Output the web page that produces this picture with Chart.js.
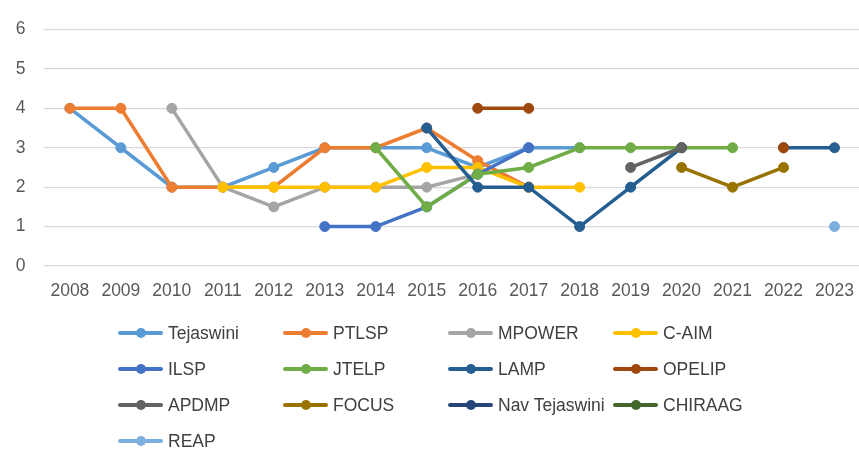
<!DOCTYPE html>
<html>
<head>
<meta charset="utf-8">
<script src="https://cdn.jsdelivr.net/npm/chart.js@4.4.1/dist/chart.umd.min.js"></script>
<style>
  html, body { margin:0; padding:0; background:#fff; overflow:hidden; width:859px; height:449px; }
  #wrap { position:relative; width:859px; height:449px; overflow:hidden; }
  #c { position:absolute; left:0; top:0; }
  .item { position:absolute; height:20px; }
  .mk { position:absolute; left:0; top:8px; width:45px; height:4px; border-radius:2px; }
  .dot { position:absolute; left:18px; top:5px; width:10px; height:10px; border-radius:50%; }
  .lbl { position:absolute; left:50px; top:0; font-family:"Liberation Sans", Arial, sans-serif; font-size:17.5px; line-height:20px; color:#404040; white-space:nowrap; }
</style>
</head>
<body>
<div id="wrap">
<canvas id="c" width="866" height="449"></canvas>
<div id="legend"></div>
</div>
<script>
const years = ["2008","2009","2010","2011","2012","2013","2014","2015","2016","2017","2018","2019","2020","2021","2022","2023"];
const yTicks = [0,1,2,3,4,5,6];
const seriesNames = ["Tejaswini","PTLSP","MPOWER","C-AIM","ILSP","JTELP","LAMP","OPELIP","APDMP","FOCUS","Nav Tejaswini","CHIRAAG","REAP"];
const seriesColors = ["#5B9BD5","#ED7D31","#A5A5A5","#FFC000","#4472C4","#70AD47","#255E91","#9E480E","#636363","#997300","#264478","#43682B","#7CAFDD"];
const _ = null;
const tejaswini    = [4,3,2,2,2.5,3,3,3,2.5,3,3,_,_,_,_,_];
const ptlsp        = [4,4,2,2,2,3,3,3.5,2.67,2,_,_,_,_,_,_];
const mpower       = [_,_,4,2,1.5,2,2,2,2.33,_,_,_,_,_,_,_];
const caim         = [_,_,_,2,2,2,2,2.5,2.5,2,2,_,_,_,_,_];
const ilsp         = [_,_,_,_,_,1,1,1.5,2.33,3,_,_,_,_,_,_];
const jtelp        = [_,_,_,_,_,_,3,1.5,2.33,2.5,3,3,3,3,_,_];
const lamp         = [_,_,_,_,_,_,_,3.5,2,2,1,2,3,_,3,3];
const opelip       = [_,_,_,_,_,_,_,_,4,4,_,_,_,_,3,_];
const apdmp        = [_,_,_,_,_,_,_,_,_,_,_,2.5,3,_,_,_];
const focus        = [_,_,_,_,_,_,_,_,_,_,_,_,2.5,2,2.5,_];
const navTejaswini = [_,_,_,_,_,_,_,_,_,_,_,_,_,_,_,_];
const chiraag      = [_,_,_,_,_,_,_,_,_,_,_,_,_,_,_,_];
const reap         = [_,_,_,_,_,_,_,_,_,_,_,_,_,_,_,1];
const seriesValues = [tejaswini,ptlsp,mpower,caim,ilsp,jtelp,lamp,opelip,apdmp,focus,navTejaswini,chiraag,reap];

const N = seriesNames.length;
const datasets = seriesNames.map((name, i) => ({
  label: name,
  data: seriesValues[i],
  borderColor: seriesColors[i],
  backgroundColor: seriesColors[i],
  pointBackgroundColor: seriesColors[i],
  pointBorderColor: seriesColors[i],
  borderWidth: 3.5,
  pointRadius: 5,
  pointBorderWidth: 1,
  spanGaps: false,
  tension: 0,
  order: N - i
}));

new Chart(document.getElementById('c'), {
  type: 'line',
  data: { labels: years, datasets },
  options: {
    responsive: false,
    animation: false,
    devicePixelRatio: 1,
    layout: { padding: { left: 0, right: 2.4, top: 28, bottom: 143 } },
    plugins: { legend: { display: false }, tooltip: { enabled: false } },
    scales: {
      x: {
        offset: true,
        grid: { display: false },
        border: { display: false },
        ticks: { font: { family: "Liberation Sans", size: 17.5 }, color: '#595959', maxRotation: 0, autoSkip: false, padding: 7 },
        afterFit: s => { s.height = 40; }
      },
      y: {
        min: 0, max: 6,
        afterBuildTicks: s => { s.ticks = yTicks.map(v => ({ value: v })); },
        grid: { color: '#D9D9D9', lineWidth: 1.3, drawTicks: false },
        border: { display: false },
        ticks: { font: { family: "Liberation Sans", size: 17.5 }, color: '#595959', padding: 19 },
        afterFit: s => { s.width = 44.4; }
      }
    }
  }
});

// legend
const leg = document.getElementById('legend');
const colX = [118, 283, 448, 613];
const rowY = [333, 369, 405, 441];
seriesNames.forEach((name, i) => {
  const d = document.createElement('div');
  d.className = 'item';
  d.style.left = colX[i % 4] + 'px';
  d.style.top = (rowY[Math.floor(i / 4)] - 10) + 'px';
  d.innerHTML = '<div class="mk" style="background:' + seriesColors[i] + '"></div>' +
                '<div class="dot" style="background:' + seriesColors[i] + '"></div>' +
                '<div class="lbl">' + name + '</div>';
  leg.appendChild(d);
});
</script>
</body>
</html>
